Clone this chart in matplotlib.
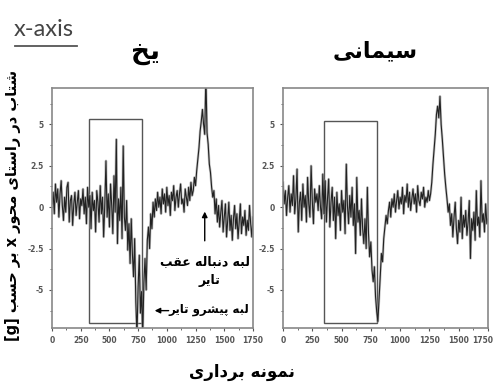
import numpy as np
import matplotlib
matplotlib.use('Agg')
import matplotlib.pyplot as plt
import matplotlib.transforms as mtrans
from matplotlib.patches import Rectangle
from matplotlib.lines import Line2D

# sample index, one reading every 10 samples
samples = np.arange(0, 1751, 10)

# ice surface (left)
ice = [0.2, 0.9, -0.4, 1.4, 0.3, 1.1, -0.6, 0.8, 1.6, 0.1,
       -0.8, 0.6, -0.3, 1.2, 1.5, -0.9, 0.4, 0.7, -1.1, 0.2,
       0.9, -0.5, 0.3, 1.0, -0.7, 0.5, 0.1, 1.1, -0.4, 0.6,
       -1.0, 1.2, 0.0, 0.7, -1.3, 0.9, -0.2, 0.4, -1.5, 1.0,
       0.3, -0.9, 1.3, -0.4, 0.6, -1.8, 0.2, 2.8, -0.6, 0.8,
       -1.2, 1.4, 0.1, -1.6, 1.9, -0.3, 4.1, -2.2, 0.5, -0.8,
       1.2, -1.9, 3.7, -0.6, -1.4, 0.4, -2.6, -1.0, -3.4, -0.7,
       -2.8, -4.2, -1.9, -5.7, -7.8, -4.8, -2.9, -6.4, -5.1, -7.8,
       -4.6, -3.1, -5.0, -2.0, -1.2, -2.5, -0.4, -1.3, 0.3, -0.6,
       0.5, -0.2, 0.9, 0.0, 0.6, -0.4, 1.1, 0.2, 0.8, -0.3,
       1.2, 0.1, 0.7, -0.5, 0.9, 0.4, 1.3, -0.2, 0.6, 1.0,
       0.0, 0.8, 1.4, 0.2, 0.5, -0.3, 1.1, 0.6, 0.1, 1.2,
       0.4, 1.5, 0.7, 1.0, 1.8, 1.3, 2.2, 2.9, 3.6, 4.6,
       5.2, 5.9, 5.0, 4.4, 8.0, 4.5, 3.8, 2.6, 2.1, 1.2,
       0.6, 1.0, -0.4, 0.5, -0.9, 0.1, -1.2, -0.3, 0.4, -1.5,
       -0.6, 0.2, -1.8, -0.8, 0.3, -1.4, -0.5, -2.0, -0.7, 0.1,
       -1.3, -0.4, -1.9, -0.9, 0.2, -1.6, -0.6, -1.1, -0.2, -1.7,
       -0.8, -1.4, 0.1, -1.0, -1.8, -0.6]

# cement surface (right)
cement = [1.5, 0.2, 1.0, -0.5, 0.6, 1.3, -0.3, 0.8, 0.1, 1.9,
          -0.4, 0.5, 2.3, -1.5, 0.3, 0.9, -0.8, 1.4, 0.0, 0.7,
          -0.9, 1.8, 0.2, -0.6, 2.5, 0.4, -1.0, 1.1, 0.3, 0.8,
          -0.2, 1.3, 0.0, -0.7, 2.0, -0.4, 1.6, -0.9, 0.5, 1.7,
          -1.2, 0.3, 1.2, -0.8, 0.6, -1.9, 0.9, -0.5, 0.2, -1.4,
          1.0, -0.3, 0.4, -1.6, 2.6, 0.1, -1.0, 0.7, -0.6, 1.2,
          -1.1, 0.2, -2.8, 1.8, -0.9, -0.2, -1.7, 0.5, -1.3, -2.2,
          -0.7, -2.5, 1.2, -1.6, -3.0, -2.1, -3.8, -4.5, -3.6, -5.4,
          -6.3, -6.9, -5.6, -4.2, -2.8, -3.3, -1.9, -1.2, -0.5, -1.0,
          -0.2, 0.3, -0.6, 0.5, 0.0, 0.8, -0.3, 0.4, 1.0, -0.1,
          0.6, 0.2, 1.2, -0.4, 0.7, 0.3, 1.4, 0.0, 0.9, -0.2,
          0.5, 1.1, 0.2, 0.8, -0.3, 1.3, 0.4, 0.1, 0.9, 0.5,
          1.2, 0.0, 0.6, 0.3, 1.0, 0.4, 0.8, 1.5, 2.6, 3.5,
          4.4, 5.6, 6.1, 5.4, 6.7, 5.0, 4.1, 3.0, 2.0, 1.2,
          0.5, -0.3, 0.2, -1.1, -0.4, -1.8, -0.6, 0.3, -1.3, -2.2,
          -0.8, -1.5, 0.6, -1.9, -0.5, -1.2, -0.2, -1.7, -0.9, 0.4,
          -3.1, -0.7, -1.4, -0.3, -2.0, 1.0, -1.1, -0.6, -1.8, 1.6,
          -0.9, -0.4, -1.5, 0.2, -1.0, -0.7]

xticks = [0, 250, 500, 750, 1000, 1250, 1500, 1750]
yticks = [-5, -2.5, 0, 2.5, 5]
ytick_labels = ['-5', '-2.5', '0', '2.5', '5']

# contact patch boxes: (start, end, bottom, top)
ice_box = (325, 780, -7.0, 5.3)
cement_box = (350, 802, -7.0, 5.2)

# persian letter forms: isolated, final, initial, medial
FORMS = {
    'ا': ('\uFE8D', '\uFE8E', None, None),
    'ب': ('\uFE8F', '\uFE90', '\uFE91', '\uFE92'),
    'پ': ('\uFB56', '\uFB57', '\uFB58', '\uFB59'),
    'ت': ('\uFE95', '\uFE96', '\uFE97', '\uFE98'),
    'ح': ('\uFEA1', '\uFEA2', '\uFEA3', '\uFEA4'),
    'خ': ('\uFEA5', '\uFEA6', '\uFEA7', '\uFEA8'),
    'د': ('\uFEA9', '\uFEAA', None, None),
    'ر': ('\uFEAD', '\uFEAE', None, None),
    'س': ('\uFEB1', '\uFEB2', '\uFEB3', '\uFEB4'),
    'ش': ('\uFEB5', '\uFEB6', '\uFEB7', '\uFEB8'),
    'ع': ('\uFEC9', '\uFECA', '\uFECB', '\uFECC'),
    'ق': ('\uFED5', '\uFED6', '\uFED7', '\uFED8'),
    'ل': ('\uFEDD', '\uFEDE', '\uFEDF', '\uFEE0'),
    'م': ('\uFEE1', '\uFEE2', '\uFEE3', '\uFEE4'),
    'ن': ('\uFEE5', '\uFEE6', '\uFEE7', '\uFEE8'),
    'ه': ('\uFEE9', '\uFEEA', '\uFEEB', '\uFEEC'),
    'و': ('\uFEED', '\uFEEE', None, None),
    'ی': ('\uFBFC', '\uFBFD', '\uFBFE', '\uFBFF'),
}


def fa(text):
    # join letters and put them in visual (right to left) order
    out = []
    for i, c in enumerate(text):
        if c not in FORMS:
            out.append(c)
            continue
        prev = text[i - 1] if i > 0 else ''
        nxt = text[i + 1] if i + 1 < len(text) else ''
        joins_prev = prev in FORMS and FORMS[prev][2] is not None
        joins_next = FORMS[c][2] is not None and nxt in FORMS
        iso, fin, ini, med = FORMS[c]
        if joins_prev and joins_next:
            out.append(med)
        elif joins_prev:
            out.append(fin)
        elif joins_next:
            out.append(ini)
        else:
            out.append(iso)
    s = ''.join(reversed(out))
    return s.translate(str.maketrans('[]()', '][)('))


plt.rcParams['font.family'] = ['DejaVu Sans']

fig = plt.figure(figsize=(4.97, 3.88), dpi=100)
ax1 = fig.add_axes([0.1046, 0.1546, 0.4044, 0.6186])
ax2 = fig.add_axes([0.5694, 0.1546, 0.4125, 0.6186])

for ax, y, box in [(ax1, ice, ice_box), (ax2, cement, cement_box)]:
    # soft grey halo under the dark trace, like the scanned original
    ax.plot(samples, y, color='#9a9a9a', lw=1.8, alpha=0.6)
    ax.plot(samples, y, color='#222222', lw=0.8)
    x0, x1, b, t = box
    ax.add_patch(Rectangle((x0, b), x1 - x0, t - b, fill=False,
                           edgecolor='#555555', lw=1.0))
    ax.set_xlim(0, 1750)
    ax.set_ylim(-7.3, 7.2)
    ax.set_xticks(xticks)
    ax.set_xticklabels([str(v) for v in xticks])
    ax.set_xticks(np.arange(125, 1750, 250), minor=True)
    ax.set_yticks(yticks)
    ax.set_yticklabels(ytick_labels)
    ax.set_yticks(np.arange(-6.25, 7, 2.5), minor=True)
    ax.tick_params(labelsize=5.5, colors='#555555', length=2.5, width=0.8)
    ax.tick_params(which='minor', length=1.5, color='#555555')
    for lab in ax.get_xticklabels() + ax.get_yticklabels():
        lab.set_fontweight('bold')
    for sp in ax.spines.values():
        sp.set_color('#888888')
        sp.set_linewidth(1.2)

# keep the last "1750" inside the picture
last = ax2.get_xticklabels()[-1]
last.set_transform(last.get_transform() + mtrans.ScaledTranslation(-5 / 100, 0, fig.dpi_scale_trans))

fig.text(0.292, 0.865, fa('یخ'), fontsize=19, fontweight='bold', ha='center', va='center')
fig.text(0.755, 0.868, fa('سیمانی'), fontsize=16, fontweight='bold', ha='center', va='center')

fig.text(0.028, 0.897, 'x-axis', fontsize=17, family='Lato', color='#444444',
         ha='left', va='bottom')
fig.add_artist(Line2D([0.03, 0.155], [0.881, 0.881], color='#555555', lw=1.3))

fig.text(0.026, 0.47, fa('شتاب در راستای محور x بر حسب [g]'), fontsize=10.5,
         fontweight='bold', rotation=90, ha='center', va='center')
fig.text(0.487, 0.04, fa('نمونه برداری'), fontsize=12, fontweight='bold',
         ha='center', va='center')

# trailing and leading edge notes on the ice panel
ax1.annotate('', xy=(1330, -0.1), xytext=(1330, -2.2),
             arrowprops=dict(arrowstyle='-|>', color='black', lw=1.0, mutation_scale=8))
ax1.text(1335, -3.3, fa('لبه دنباله عقب'), fontsize=9, fontweight='bold',
         ha='center', va='center')
ax1.text(1370, -4.4, fa('تایر'), fontsize=9, fontweight='bold',
         ha='center', va='center')
ax1.text(1365, -6.2, fa('لبه پیشرو تایر'), fontsize=8.5, fontweight='bold',
         ha='center', va='center')
ax1.annotate('', xy=(870, -6.25), xytext=(1040, -6.25),
             arrowprops=dict(arrowstyle='-|>', color='black', lw=1.0, mutation_scale=8))

fig.savefig('out.png', dpi=100)
